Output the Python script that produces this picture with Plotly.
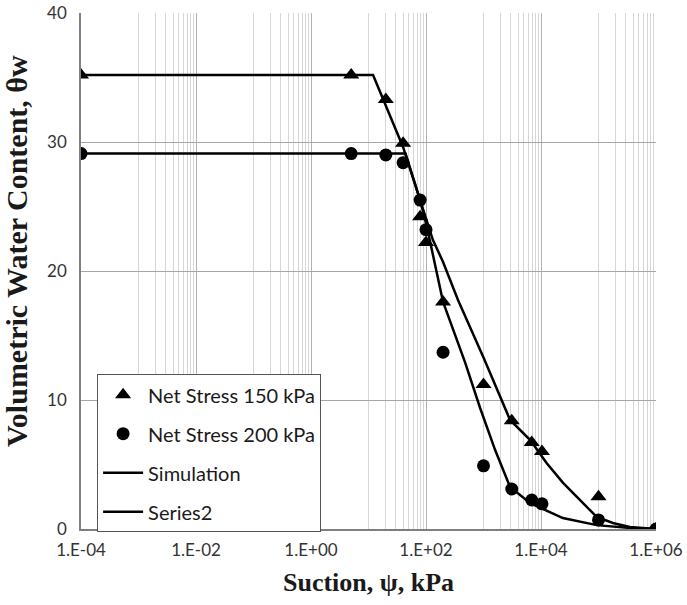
import plotly.graph_objects as go

# ---- data ----
tri_psi = [1e-4, 5, 20, 40, 79, 100, 198, 1000, 3100, 6900, 10400, 1e5, 1e6]
tri_theta = [35.2, 35.2, 33.3, 29.9, 24.2, 22.2, 17.6, 11.2, 8.4, 6.7, 6.0, 2.5, 0]

circ_psi = [1e-4, 5, 20, 40, 79, 100, 198, 1000, 3100, 6900, 10400, 1e5, 1e6]
circ_theta = [29.1, 29.1, 29.0, 28.4, 25.5, 23.2, 13.7, 4.9, 3.1, 2.25, 1.95, 0.7, 0]

sim150_psi = [1e-4, 12, 40, 79, 132, 198, 360, 1000, 2900, 6500, 12600, 24000,
              48000, 93000, 178000, 350000, 1e6]
sim150_theta = [35.2, 35.2, 29.6, 25.5, 22.4, 20.7, 17.75, 13.3, 8.45, 6.9, 5.1, 3.6,
                2.25, 0.93, 0.47, 0.16, 0]

sim200_psi = [1e-4, 44, 79, 104, 198, 480, 870, 1600, 2900, 6500, 24000, 93000, 350000, 1e6]
sim200_theta = [29.1, 29.1, 25.5, 23.4, 17.6, 12.9, 9.4, 6.1, 3.26, 2.0, 0.85, 0.3, 0.08, 0]

x_tick_vals = [1e-4, 1e-2, 1e0, 1e2, 1e4, 1e6]
x_tick_text = ["1.E-04", "1.E-02", "1.E+00", "1.E+02", "1.E+04", "1.E+06"]
y_tick_vals = [0, 10, 20, 30, 40]

# minor grid: every 10^n .. 9*10^n in the odd decades (log base 100 axis)
minor_vals = [k * 10.0 ** n for n in (-3, -1, 1, 3, 5) for k in range(1, 10)]

tick_font = dict(family="Lato", size=17, color="#333333")
leg_font = dict(family="Lato", size=20, color="#1a1a1a")

fig = go.Figure()
fig.add_trace(go.Scatter(x=tri_psi, y=tri_theta, mode="markers", name="Net Stress 150 kPa",
                         marker=dict(symbol="triangle-up", size=14, color="black"),
                         legendgroup="a"))
fig.add_trace(go.Scatter(x=circ_psi, y=circ_theta, mode="markers", name="Net Stress 200 kPa",
                         marker=dict(symbol="circle", size=13, color="black"),
                         legendgroup="b"))
fig.add_trace(go.Scatter(x=sim150_psi, y=sim150_theta, mode="lines", name="Simulation",
                         line=dict(color="black", width=2.5), legendgroup="c"))
fig.add_trace(go.Scatter(x=sim200_psi, y=sim200_theta, mode="lines", name="Series2",
                         line=dict(color="black", width=2.5), legendgroup="d"))

fig.update_layout(
    width=687, height=605,
    margin=dict(l=81, r=31, t=13, b=76, autoexpand=False),
    paper_bgcolor="white", plot_bgcolor="white",
    showlegend=True,
    legend=dict(x=0.028, y=0.30, xanchor="left", yanchor="top",
                bgcolor="white", bordercolor="#555555", borderwidth=1,
                font=leg_font, tracegroupgap=10, itemwidth=40,
                traceorder="grouped"),
    annotations=[dict(text="<b>Volumetric Water Content, θw</b>", textangle=-90,
                      xref="paper", yref="paper", x=-0.111, y=0.539,
                      xanchor="center", yanchor="middle", showarrow=False,
                      font=dict(family="Liberation Serif", size=30, color="#1a1a1a"))],
)

fig.update_xaxes(
    type="log", range=[-4, 6], automargin=False, ticklabeloverflow="allow",
    tickmode="array", tickvals=x_tick_vals, ticktext=x_tick_text,
    tickfont=tick_font, ticks="", ticklabelstandoff=5,
    showgrid=True, gridcolor="#b3b3b3", gridwidth=1,
    minor=dict(tickmode="array", tickvals=minor_vals, showgrid=True,
               gridcolor="#d6d6d6", gridwidth=1, ticks=""),
    showline=True, linecolor="#7f7f7f", linewidth=1.5,
    zeroline=False,
    title=dict(text="<b>Suction, ψ, kPa</b>", standoff=14,
               font=dict(family="Liberation Serif", size=26, color="#1a1a1a")),
)
fig.update_yaxes(
    range=[0, 40], tickmode="array", tickvals=y_tick_vals, automargin=False,
    ticklabeloverflow="allow",
    tickfont=tick_font, ticks="", ticklabelstandoff=9,
    showgrid=True, gridcolor="#a6a6a6", gridwidth=1,
    showline=True, linecolor="#808080", linewidth=1.5,
    zeroline=False,
)

fig.write_html("out.html", config={"displayModeBar": False},
               post_script="document.body.style.margin='0';")
